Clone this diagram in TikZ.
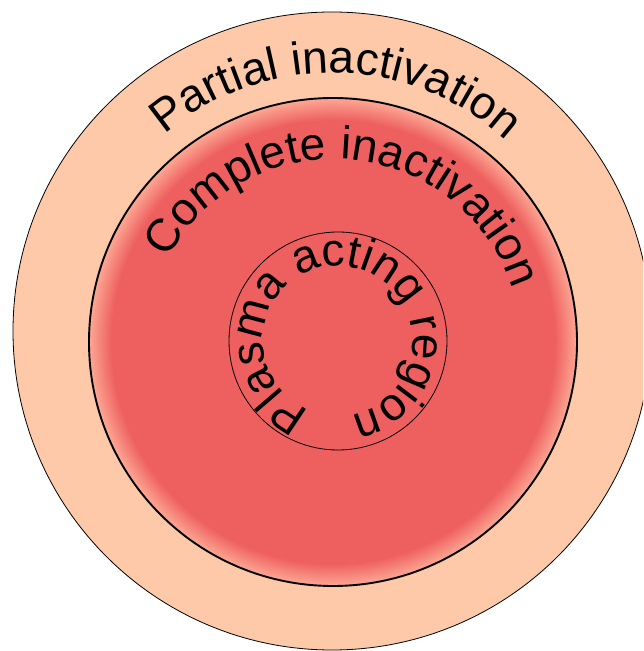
\documentclass[tikz,border=0pt]{standalone}
\usepackage{fontspec}
\setmainfont{Liberation Sans}
\usetikzlibrary{decorations.text}
\definecolor{peach}{RGB}{254,201,168}
\definecolor{cred}{RGB}{238,95,95}
\definecolor{cedge}{RGB}{252,168,148}
\pgfdeclareradialshading{redglow}{\pgfpoint{0bp}{0bp}}{color(0bp)=(cred); color(22.7bp)=(cred); color(25bp)=(cedge); color(50bp)=(cedge)}
\tikzset{
  arctext/.style={decorate, decoration={text along path, text align=center,
      text={|\fontsize{46}{46}\selectfont|#1}}},
  thinring/.style={draw=black, line width=0.8pt},
  thickring/.style={draw=black, line width=1.9pt}
}
\begin{document}
\begin{tikzpicture}[x=1pt,y=1pt]
\useasboundingbox (0,0) rectangle (643,651);
\clip (0,0) rectangle (643,651);
\coordinate (co) at (332,320);
\coordinate (cm) at (333,309);
\coordinate (ct) at (334,304);
\coordinate (ci) at (338,310);
\path[thinring, fill=peach] (co) circle (319);
\path[thickring, shade, shading=redglow] (cm) circle (244);
\path[thinring] (ci) circle (109);
\path[arctext={Partial inactivation}] ([shift={(149:258)}]co) arc[start angle=149, end angle=29, radius=258];
\path[arctext={Complete inactivation}] ([shift={(165:188)}]ct) arc[start angle=165, end angle=5, radius=188];
\path[arctext={Plasma acting region}] ([shift={(262:75)}]ci) arc[start angle=262, end angle=-94, radius=75];
\end{tikzpicture}
\end{document}
